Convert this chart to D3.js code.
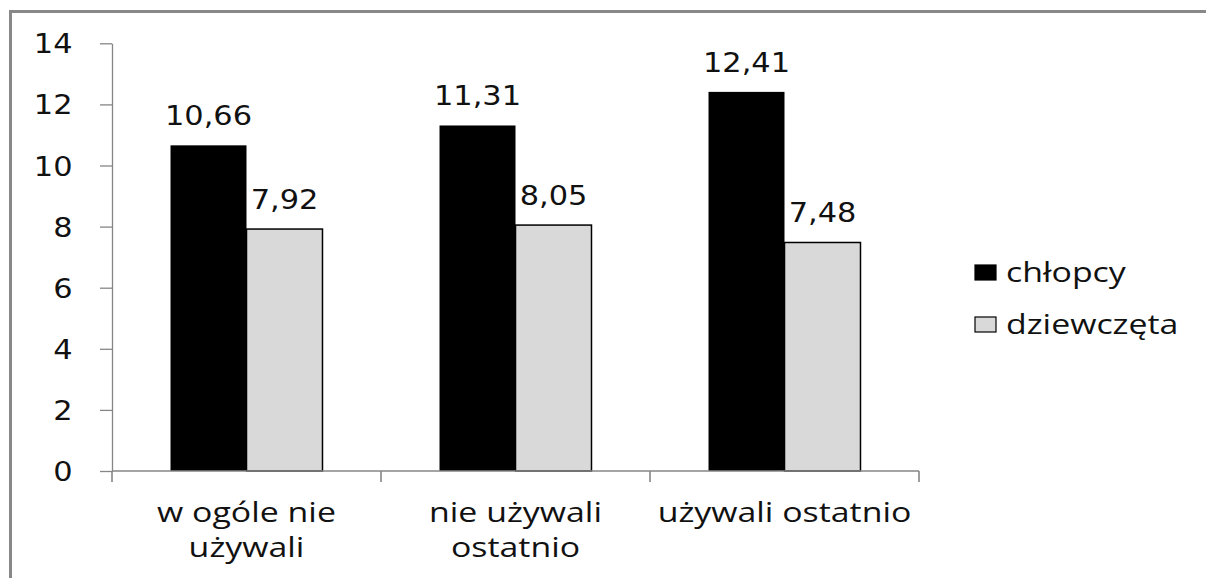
<!DOCTYPE html>
<html>
<head>
<meta charset="utf-8">
<script src="https://cdn.jsdelivr.net/npm/d3@7"></script>
<style>
  html, body { margin: 0; padding: 0; background: #fff; }
  svg { display: block; }
</style>
</head>
<body>
<svg id="chart" width="1206" height="578"></svg>
<script>
// Chart data
const categories = ["w ogóle nie używali", "nie używali ostatnio", "używali ostatnio"];
const categoryLines = [["w ogóle nie", "używali"], ["nie używali", "ostatnio"], ["używali ostatnio"]];
const series = ["chłopcy", "dziewczęta"];
const chlopcy = [10.66, 11.31, 12.41];
const dziewczeta = [7.92, 8.05, 7.48];
const yTicks = [0, 2, 4, 6, 8, 10, 12, 14];

const values = [chlopcy, dziewczeta];
const fills = ["#000000", "#d9d9d9"];
const axisColor = "#868686";
const numFont = "'DejaVu Sans', Verdana, sans-serif";
const textFont = "'Open Sans', 'Noto Sans', sans-serif";
const sx = 1.17;  // horizontal stretch for numbers
const sxt = 1.21; // horizontal stretch for word labels

const svg = d3.select("#chart");

// outer frame
svg.append("rect")
  .attr("x", 10.5).attr("y", 11.5)
  .attr("width", 1300).attr("height", 700)
  .attr("fill", "none").attr("stroke", "#888").attr("stroke-width", 3);

const x = d3.scaleBand().domain(categories).range([112, 919]).paddingInner(0).paddingOuter(0);
const xs = d3.scaleBand().domain(series).range([0, x.bandwidth()]).paddingInner(0).paddingOuter(0.77);
const y = d3.scaleLinear().domain([0, 14]).range([471, 43.3]);

// y axis
const yAxis = svg.append("g")
  .attr("transform", "translate(112,0)")
  .call(d3.axisLeft(y).tickValues(yTicks).tickSize(12).tickSizeOuter(0).tickFormat(d3.format("d")));
yAxis.select(".domain").attr("stroke", axisColor).attr("stroke-width", 1.3);
yAxis.selectAll(".tick line").attr("stroke", axisColor).attr("stroke-width", 1.3);
yAxis.selectAll(".tick text")
  .attr("x", 0).attr("dy", null)
  .attr("transform", "translate(-39.5,9.5) scale(" + sx + ",1)")
  .attr("text-anchor", "end")
  .attr("fill", "#111")
  .style("font-family", numFont).style("font-size", "26px");

// bars
values.forEach((vals, si) => {
  svg.append("g").selectAll("rect")
    .data(vals)
    .join("rect")
    .attr("x", (d, i) => x(categories[i]) + xs(series[si]))
    .attr("y", d => y(d))
    .attr("width", xs.bandwidth())
    .attr("height", d => y(0) - y(d))
    .attr("fill", fills[si])
    .attr("stroke", si === 1 ? "#000" : "none")
    .attr("stroke-width", 1.5);

  // value labels
  svg.append("g").selectAll("text")
    .data(vals)
    .join("text")
    .attr("transform", (d, i) =>
      "translate(" + (x(categories[i]) + xs(series[si]) + xs.bandwidth() / 2) + "," + (y(d) - 20) + ") scale(" + sx + ",1)")
    .attr("text-anchor", "middle")
    .attr("fill", "#111")
    .style("font-family", numFont).style("font-size", "26px")
    .text(d => d3.format(".2f")(d).replace(".", ","));
});

// x axis line and boundary ticks
svg.append("line")
  .attr("x1", x.range()[0]).attr("x2", x.range()[1])
  .attr("y1", y(0)).attr("y2", y(0))
  .attr("stroke", axisColor).attr("stroke-width", 1.3);
const bounds = categories.map(c => x(c)).concat([x.range()[1]]);
svg.append("g").selectAll("line")
  .data(bounds)
  .join("line")
  .attr("x1", d => d).attr("x2", d => d)
  .attr("y1", y(0)).attr("y2", y(0) + 11)
  .attr("stroke", axisColor).attr("stroke-width", 1.6);

// category labels
categories.forEach((c, i) => {
  const cx = x(c) + x.bandwidth() / 2;
  categoryLines[i].forEach((line, li) => {
    svg.append("text")
      .attr("transform", "translate(" + cx + "," + (522 + li * 35) + ") scale(" + sxt + ",1)")
      .attr("text-anchor", "middle")
      .attr("fill", "#111")
      .style("font-family", textFont).style("font-size", "28px")
      .text(line);
  });
});

// legend
const legend = svg.append("g");
const legendY = [272.5, 324.5];
series.forEach((s, i) => {
  legend.append("rect")
    .attr("x", 975).attr("y", legendY[i] - 7.5)
    .attr("width", 21).attr("height", 15)
    .attr("fill", fills[i])
    .attr("stroke", "#000").attr("stroke-width", 1.2);
  legend.append("text")
    .attr("transform", "translate(1006," + (legendY[i] + 9) + ") scale(" + sxt + ",1)")
    .attr("fill", "#111")
    .style("font-family", textFont).style("font-size", "28px")
    .text(s);
});
</script>
</body>
</html>
